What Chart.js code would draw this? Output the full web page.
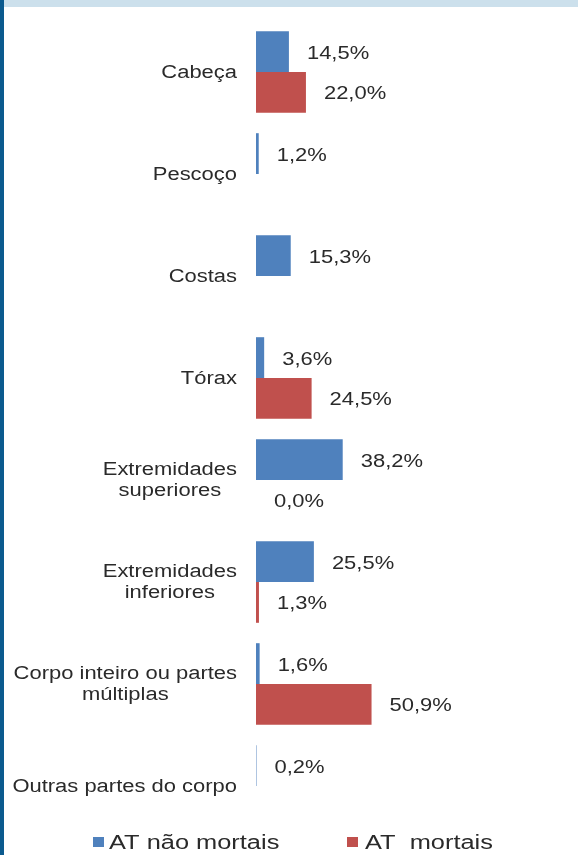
<!DOCTYPE html>
<html lang="pt">
<head>
<meta charset="utf-8">
<title>Partes do corpo atingidas - AT</title>
<script src="https://cdn.jsdelivr.net/npm/chart.js"></script>
<style>
    html, body { margin: 0; padding: 0; background: #fff; overflow: hidden; }
    .frame { position: relative; width: 578px; height: 855px; }
    .frame canvas { position: absolute; left: 0; top: 0; }
    .band-top { position: absolute; left: 0; top: 0; width: 578px; height: 7px; background: #cce0ec; }
    .band-left { position: absolute; left: 0; top: 0; width: 4px; height: 855px; background: #0b5a8e; }
</style>
</head>
<body>
<div class="frame">
    <canvas id="bodyPartsChart" width="578" height="855"></canvas>
    <div class="band-top"></div>
    <div class="band-left"></div>
</div>
<script>
// Parts of the body, one group of bars each
const categories = [
    'Cabeça',
    'Pescoço',
    'Costas',
    'Tórax',
    ['Extremidades', 'superiores'],
    ['Extremidades', 'inferiores'],
    ['Corpo inteiro ou partes', 'múltiplas'],
    'Outras partes do corpo'
];

// Share of accidents (%) - non fatal / fatal
const naoMortais = [14.5, 1.2, 15.3, 3.6, 38.2, 25.5, 1.6, 0.2];
const mortais = [22.0, null, null, 24.5, 0.0, 1.3, 50.9, null];

const seriesLabels = ['AT não mortais', 'AT  mortais'];

const COLORS = {
    blue: '#4f81bd',
    red: '#c0504d',
    text: '#2a2a2a'
};

// the original text is drawn a little wider than plain Arial
const TEXT_STRETCH = 1.22;
const LEGEND_STRETCH = 1.27;
const FONT = '18px "Liberation Sans", Arial, sans-serif';
const LEGEND_FONT = '20px "Liberation Sans", Arial, sans-serif';
const LABEL_RIGHT = 237;
const LINE_HEIGHT = 21;

function formatPct(v) {
    return v.toFixed(1).replace('.', ',') + '%';
}

function drawStretched(ctx, text, x, y, align, stretch) {
    ctx.save();
    ctx.translate(x, y);
    ctx.scale(stretch || TEXT_STRETCH, 1);
    ctx.textAlign = align || 'left';
    ctx.fillText(text, 0, 0);
    ctx.restore();
}

// category names on the left, multi-line names centred on their widest line
const categoryLabels = {
    id: 'categoryLabels',
    afterDraw(chart) {
        const ctx = chart.ctx;
        const yScale = chart.scales.y;
        ctx.save();
        ctx.font = FONT;
        ctx.fillStyle = COLORS.text;
        ctx.textBaseline = 'middle';
        categories.forEach((cat, i) => {
            const lines = Array.isArray(cat) ? cat : [cat];
            const yc = yScale.getPixelForValue(i);
            const maxW = Math.max(...lines.map(l => ctx.measureText(l).width)) * TEXT_STRETCH;
            const cx = LABEL_RIGHT - maxW / 2;
            lines.forEach((line, j) => {
                const ly = yc + (j - (lines.length - 1) / 2) * LINE_HEIGHT + 1;
                drawStretched(ctx, line, cx, ly, 'center');
            });
        });
        ctx.restore();
    }
};

// value printed after the end of each bar
const valueLabels = {
    id: 'valueLabels',
    afterDatasetsDraw(chart) {
        const ctx = chart.ctx;
        ctx.save();
        ctx.font = FONT;
        ctx.fillStyle = COLORS.text;
        ctx.textBaseline = 'middle';
        chart.data.datasets.forEach((ds, di) => {
            const meta = chart.getDatasetMeta(di);
            meta.data.forEach((bar, i) => {
                const v = ds.data[i];
                if (v === null || v === undefined) return;
                drawStretched(ctx, formatPct(v), bar.x + 18, bar.y + 2, 'left');
            });
        });
        ctx.restore();
    }
};

// legend row along the bottom edge
const bottomLegend = {
    id: 'bottomLegend',
    afterDraw(chart) {
        const ctx = chart.ctx;
        const items = [
            { x: 93, textGap: 16 },
            { x: 347, textGap: 18 }
        ];
        ctx.save();
        ctx.font = LEGEND_FONT;
        ctx.textBaseline = 'middle';
        chart.data.datasets.forEach((ds, i) => {
            const it = items[i];
            ctx.fillStyle = ds.backgroundColor;
            ctx.fillRect(it.x, 837, 11, 10);
            ctx.fillStyle = COLORS.text;
            drawStretched(ctx, ds.label, it.x + it.textGap, 843, 'left', LEGEND_STRETCH);
        });
        ctx.restore();
    }
};

function createBodyPartsChart(canvasId) {
    const ctx = document.getElementById(canvasId);
    if (!ctx) {
        console.error(`Canvas element ${canvasId} not found`);
        return null;
    }

    return new Chart(ctx, {
        type: 'bar',
        data: {
            labels: categories,
            datasets: [
                {
                    label: seriesLabels[0],
                    data: naoMortais,
                    backgroundColor: COLORS.blue,
                    borderWidth: 0
                },
                {
                    label: seriesLabels[1],
                    data: mortais,
                    backgroundColor: COLORS.red,
                    borderWidth: 0
                }
            ]
        },
        options: {
            indexAxis: 'y',
            responsive: false,
            animation: false,
            datasets: {
                bar: {
                    categoryPercentage: 0.8,
                    barPercentage: 1.0
                }
            },
            layout: {
                padding: { left: 256, right: 95, top: 21, bottom: 18 }
            },
            plugins: {
                legend: { display: false },
                tooltip: { enabled: false }
            },
            scales: {
                x: {
                    display: false,
                    min: 0,
                    max: 100
                },
                y: {
                    display: false,
                    grid: { display: false }
                }
            }
        },
        plugins: [categoryLabels, valueLabels, bottomLegend]
    });
}

document.addEventListener('DOMContentLoaded', () => {
    createBodyPartsChart('bodyPartsChart');
});
</script>
</body>
</html>
